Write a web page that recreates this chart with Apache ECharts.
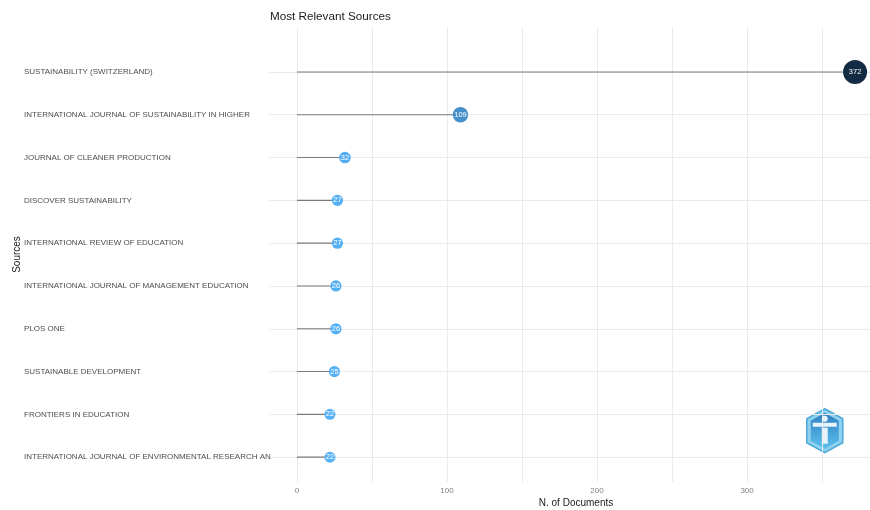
<!DOCTYPE html>
<html>
<head>
<meta charset="utf-8">
<script src="https://cdn.jsdelivr.net/npm/echarts@6/dist/echarts.min.js"></script>
<style>html,body{margin:0;padding:0;background:#fff}#c{width:870px;height:510px}</style>
</head>
<body>
<div id="c"></div>
<script>
const sources = [
  'SUSTAINABILITY (SWITZERLAND)',
  'INTERNATIONAL JOURNAL OF SUSTAINABILITY IN HIGHER',
  'JOURNAL OF CLEANER PRODUCTION',
  'DISCOVER SUSTAINABILITY',
  'INTERNATIONAL REVIEW OF EDUCATION',
  'INTERNATIONAL JOURNAL OF MANAGEMENT EDUCATION',
  'PLOS ONE',
  'SUSTAINABLE DEVELOPMENT',
  'FRONTIERS IN EDUCATION',
  'INTERNATIONAL JOURNAL OF ENVIRONMENTAL RESEARCH AN'
];
const documents = [372, 109, 32, 27, 27, 26, 26, 25, 22, 22];
const xTickLabels = [0, 100, 200, 300];
const xGridValues = [0, 50, 100, 150, 200, 250, 300, 350];

const idx = sources.map((_, i) => i);
const points = documents.map((v, i) => [v, i]);
const vMin = Math.min(...documents), vMax = Math.max(...documents);

const chart = echarts.init(document.getElementById('c'), null, {renderer: 'canvas'});
chart.setOption({
  backgroundColor: '#ffffff',
  animation: false,
  textStyle: {fontFamily: 'Liberation Sans, Arial, sans-serif'},
  title: {
    text: 'Most Relevant Sources',
    left: 265, top: 6,
    textStyle: {fontSize: 11.7, fontWeight: 'normal', color: '#1a1a1a', fontFamily: 'Liberation Sans, Arial, sans-serif'}
  },
  grid: {left: 269, top: 27, width: 614, height: 455, containLabel: false, outerBoundsMode: 'none'},
  xAxis: {
    type: 'value', min: -18.6, max: 390.6,
    name: 'N. of Documents', nameLocation: 'middle', nameGap: 16, nameMoveOverlap: false,
    nameTextStyle: {fontSize: 10, color: '#1a1a1a'},
    axisLine: {show: false},
    axisTick: {show: false, customValues: xGridValues},
    axisLabel: {customValues: xTickLabels, fontSize: 8, color: '#7f7f7f', margin: 5},
    splitLine: {show: true, lineStyle: {color: '#ebebeb', width: 1}}
  },
  yAxis: {
    type: 'value', inverse: true, min: -1.05, max: 9.58,
    name: 'Sources', nameLocation: 'middle', nameGap: 247, nameRotate: 90, nameMoveOverlap: false,
    nameTextStyle: {fontSize: 10, color: '#1a1a1a'},
    axisLine: {show: false},
    axisTick: {show: false, customValues: idx},
    axisLabel: {
      customValues: idx, align: 'left', margin: 245,
      fontSize: 8, color: '#4d4d4d',
      formatter: v => sources[Math.round(v)] || ''
    },
    splitLine: {show: true, lineStyle: {color: '#ebebeb', width: 1}}
  },
  visualMap: {
    show: false, type: 'continuous', seriesIndex: 1, dimension: 0,
    min: vMin, max: vMax,
    inRange: {color: ['#56B1F7', '#132B43']}
  },
  series: [
    {
      type: 'custom',
      data: points,
      encode: {x: 0, y: 1},
      silent: true,
      renderItem: (params, api) => {
        const s = api.coord([0, api.value(1)]);
        const e = api.coord([api.value(0), api.value(1)]);
        return {type: 'line', shape: {x1: s[0], y1: s[1], x2: e[0], y2: e[1]},
                style: {stroke: '#7a7a7a', lineWidth: 1.1}};
      },
      z: 2
    },
    {
      type: 'scatter',
      data: points,
      symbol: 'circle',
      symbolSize: d => {
        const t = (d[0] - vMin) / (vMax - vMin);
        return Math.sqrt(11 * 11 + (24 * 24 - 11 * 11) * t);
      },
      itemStyle: {opacity: 1},
      label: {
        show: true, position: 'inside', color: '#ffffff', fontSize: 7.5,
        formatter: p => String(p.value[0])
      },
      z: 3
    }
  ],
  graphic: [
    {
      type: 'group', left: 806, top: 408,
      children: [
        {type: 'polygon', shape: {points: [[18,0],[36,10],[36,34],[18,44],[0,34],[0,10]]},
         style: {fill: '#8fd0ee', stroke: '#4aa8dc', lineWidth: 1.5}},
        {type: 'polygon', shape: {points: [[18,4],[32,12],[32,32],[18,40],[4,32],[4,12]]},
         style: {fill: new echarts.graphic.LinearGradient(0,0,0,1,[{offset:0,color:'#2f7fc4'},{offset:1,color:'#5cc0ea'}])}},
        {type: 'rect', shape: {x: 6, y: 14, width: 24, height: 4}, style: {fill: '#e8f4fb'}},
        {type: 'rect', shape: {x: 15, y: 19, width: 6, height: 16}, style: {fill: '#e8f4fb'}},
        {type: 'circle', shape: {cx: 18, cy: 10, r: 3}, style: {fill: '#e8f4fb'}}
      ]
    }
  ]
});
</script>
</body>
</html>
